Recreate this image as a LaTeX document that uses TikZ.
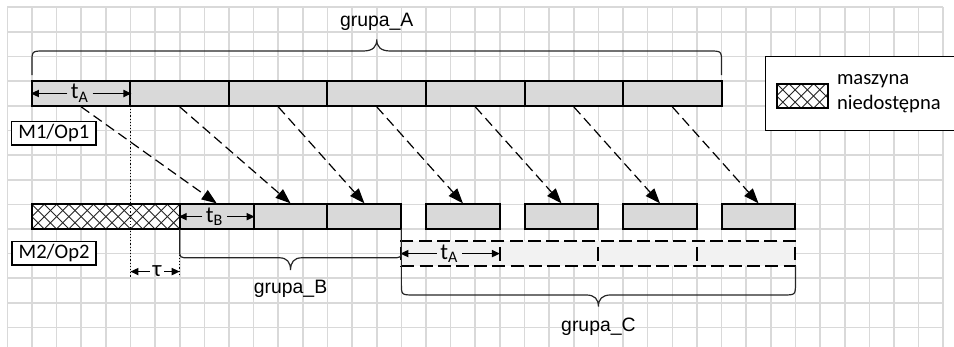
\documentclass[tikz,border=0pt]{standalone}
\usepackage{fontspec}
\setmainfont{Carlito}
\newfontfamily\grpfont{Liberation Sans}
\usetikzlibrary{arrows.meta,calc}

\definecolor{gridgray}{HTML}{D9D9D9}
\definecolor{barfill}{HTML}{D9D9D9}
\definecolor{idlefill}{HTML}{F2F2F2}

\begin{document}
\begin{tikzpicture}[x=12.315pt,y=-12.315pt,
  gridline/.style={draw=gridgray, line width=0.8pt},
  seg/.style={draw=black, line width=1pt, fill=barfill, inner sep=0pt, minimum height=12.315pt},
  segA/.style={seg, minimum width=49.26pt},
  segB/.style={seg, minimum width=36.945pt},
  hatchline/.style={draw=black!85, line width=0.45pt},
  hatched/.style={draw=black, line width=1pt, fill=white, inner sep=0pt,
    minimum height=12.315pt,
    path picture={
      \foreach \k in {-3,...,14}{
        \draw[hatchline] ([xshift=\k*6.1575pt]path picture bounding box.south west) -- ++(12.315pt,12.315pt);
        \draw[hatchline] ([xshift=\k*6.1575pt]path picture bounding box.north west) -- ++(12.315pt,-12.315pt);
      }}},
  idle/.style={draw=black, line width=1pt, fill=idlefill, dash pattern=on 6.5pt off 2.6pt,
    inner sep=0pt, minimum height=12.315pt},
  tick/.style={draw=black, line width=1pt},
  flow/.style={draw=black, line width=0.6pt, dash pattern=on 5pt off 2.6pt,
    -{Triangle[length=7.5pt,width=5.6pt]}},
  dim/.style={draw=black, line width=0.6pt, -{Triangle[length=4pt,width=3.6pt]}},
  dimlbl/.style={inner sep=1.6pt, font=\fontsize{11.5}{13}\selectfont},
  dotline/.style={draw=black, line width=0.6pt, dash pattern=on 0.6pt off 1pt},
  bracket/.style={draw=black!85, line width=0.6pt},
  grplbl/.style={anchor=base, inner sep=0pt, font=\grpfont\fontsize{9.7}{11}\selectfont},
  mlabel/.style={draw=black, line width=0.7pt, fill=white, inner sep=0pt,
    minimum width=42.1pt, minimum height=11.7pt, font=\fontsize{10.3}{12}\selectfont},
]
\useasboundingbox (-0.2964,-0.2964) rectangle (38.437,13.792);
\clip (-0.2964,-0.2964) rectangle (38.437,13.792);

% squared paper
\foreach \i in {0,...,38} \draw[gridline] (\i,0) -- (\i,14);
\foreach \j in {0,...,13} \draw[gridline] (0,\j) -- (38,\j);

% legend
\draw[draw=black, line width=0.7pt, fill=white] (30.79,2) rectangle (40,5);
\node[hatched, minimum width=25.5pt] (swatch) at (32.27,3.6) {};
\node[anchor=west, align=left, inner sep=0pt, font=\fontsize{10.3}{12.2}\selectfont]
  (legtxt) at (33.67,3.51) {maszyna\\niedostępna};

% machine M1: operations of group A
\foreach \i in {1,...,7} \node[segA] (a\i) at ({4*\i-1},3.5) {};

% machine M2: unavailable period, group B and group C
\node[hatched, minimum width=73.89pt] (down) at (4,8.5) {};
\node[segB] (b1) at (8.5,8.5) {};
\node[segB] (b2) at (11.5,8.5) {};
\node[segB] (b3) at (14.5,8.5) {};
\node[segB] (c1) at (18.5,8.5) {};
\node[segB] (c2) at (22.5,8.5) {};
\node[segB] (c3) at (26.5,8.5) {};
\node[segB] (c4) at (30.5,8.5) {};

% group C executed as group A would be
\node[idle, minimum width=197.04pt] (idle) at (24,10) {};
\foreach \x in {20,24,28} \draw[tick] (\x,9.73) -- (\x,10.3);

% machine labels
\node[mlabel] (m1) at (1.89,5.12) {M1/Op1};
\node[mlabel] (m2) at (1.90,9.99) {M2/Op2};

% transfers between machines
\draw[flow] (a1.south) -- (b1.north);
\draw[flow] (a2.south) -- (b2.north);
\draw[flow] (a3.south) -- (b3.north);
\draw[flow] (a4.south) -- (c1.north);
\draw[flow] (a5.south) -- (c2.north);
\draw[flow] (a6.south) -- (c3.north);
\draw[flow] (a7.south) -- (c4.north);

% durations
\node[dimlbl] (ta) at (2.95,3.5) {t\textsubscript{A}};
\draw[dim] (ta) -- (a1.west);
\draw[dim] (ta) -- (a1.east);
\node[dimlbl] (tb) at (8.42,8.5) {t\textsubscript{B}};
\draw[dim] (tb) -- (b1.west);
\draw[dim] (tb) -- (b1.east);
\coordinate (idleend) at (20,10);
\node[dimlbl] (tc) at (17.95,10) {t\textsubscript{A}};
\draw[dim] (tc) -- (idle.west);
\draw[dim] (tc) -- (idleend);

% delay tau
\coordinate (tauA) at (5,4);
\coordinate (tauB) at (5,10.94);
\coordinate (tauC) at (7,9);
\coordinate (tauD) at (7,10.94);
\draw[dotline] (tauA) -- (tauB);
\draw[dotline] (tauC) -- (tauD);
\coordinate (tauL) at (5,10.73);
\coordinate (tauR) at (7,10.73);
\node[inner sep=1.2pt, font=\fontsize{11.5}{13}\selectfont] (tau) at (6.08,10.73) {τ};
\draw[dim] (tau) -- (tauL);
\draw[dim] (tau) -- (tauR);

% braces
\draw[bracket] (1,2.75) -- (1,2.27) .. controls (1,1.774) .. (1.5,1.774) -- (14.45,1.774)
  .. controls (14.85,1.774) and (15,1.6) .. (15,1.3)
  .. controls (15,1.6) and (15.15,1.774) .. (15.55,1.774) -- (28.5,1.774)
  .. controls (29,1.774) .. (29,2.27) -- (29,2.75);
\draw[bracket] (7,9) -- (7,9.85) .. controls (7,10.17) .. (7.4,10.17) -- (11.05,10.17)
  .. controls (11.35,10.17) and (11.5,10.35) .. (11.5,10.67)
  .. controls (11.5,10.35) and (11.65,10.17) .. (11.95,10.17) -- (15.6,10.17)
  .. controls (16,10.17) .. (16,9.85) -- (16,9);
\draw[bracket] (16,9) -- (16,11.2) .. controls (16,11.68) .. (16.5,11.68) -- (23.5,11.68)
  .. controls (23.85,11.68) and (24,11.85) .. (24,12.15)
  .. controls (24,11.85) and (24.15,11.68) .. (24.5,11.68) -- (31.5,11.68)
  .. controls (32,11.68) .. (32,11.2) -- (32,10.5);

\node[grplbl] (ga) at (15,0.787) {grupa\_A};
\node[grplbl] (gb) at (11.5,11.64) {grupa\_B};
\node[grplbl] (gc) at (24,13.17) {grupa\_C};
\end{tikzpicture}
\end{document}
